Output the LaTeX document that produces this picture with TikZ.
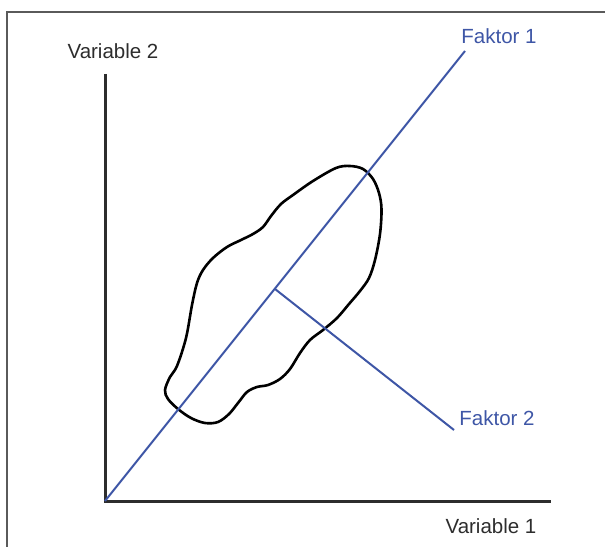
\documentclass[tikz,border=0pt]{standalone}
\usepackage{fontspec}
\setmainfont{Liberation Sans}
\definecolor{faktorblue}{RGB}{62,86,166}
\definecolor{axisgray}{RGB}{45,45,45}
\definecolor{framegray}{RGB}{90,90,90}
\begin{document}
\begin{tikzpicture}[x=1bp,y=-1bp,
  axisline/.style={draw=axisgray,line width=3bp,line join=miter},
  factorline/.style={draw=faktorblue,line width=2bp},
  blobline/.style={draw=black,line width=2.6bp},
  framestyle/.style={draw=framegray,line width=1.6bp},
  varlabel/.style={font=\fontsize{20.5bp}{24bp}\selectfont,text=axisgray,inner sep=0pt},
  faklabel/.style={font=\fontsize{20.5bp}{24bp}\selectfont,text=faktorblue,inner sep=0pt}]
\useasboundingbox (0,0) rectangle (605,547);
% frame
\coordinate (frameTR) at (606,12);
\coordinate (frameTL) at (7,12);
\coordinate (frameBL) at (7,548);
\draw[framestyle] (frameTR) -- (frameTL) -- (frameBL);
% axes
\coordinate (O) at (105,501);
\coordinate (ytop) at (105,74);
\coordinate (xend) at (551,501);
\draw[axisline] (ytop) -- (O) -- (xend);
% blob
\draw[blobline] plot[smooth cycle,tension=0.55] coordinates {
(350,166) (363,169) (373,179) (379,193) (381.5,209) (380,234) (375,260)
(369,278) (360,291) (349,304) (337,318) (323,330) (310,340) (300,353)
(290,369) (280,379) (268,385) (257,387) (247,392) (238,403) (229,414)
(218,422) (205,423) (191,418) (178,409) (168,399) (165,390) (170,377)
(177,366) (186,338) (192,305) (197,283) (203,270) (213,258) (227,247)
(241,240) (253,234) (263,227) (271,216) (281,204) (293,195) (313,181) (336,168)};
% factor lines
\coordinate (F1end) at (465,51);
\coordinate (P) at (275,289);
\coordinate (F2end) at (454,430);
\draw[factorline] (O) -- (F1end);
\draw[factorline] (P) -- (F2end);
% labels
\node[varlabel] (v2) at (113,51) {Variable 2};
\node[varlabel] (v1) at (491,526) {Variable 1};
\node[faklabel] (f1) at (499,36) {Faktor 1};
\node[faklabel] (f2) at (497,418) {Faktor 2};
\end{tikzpicture}
\end{document}
